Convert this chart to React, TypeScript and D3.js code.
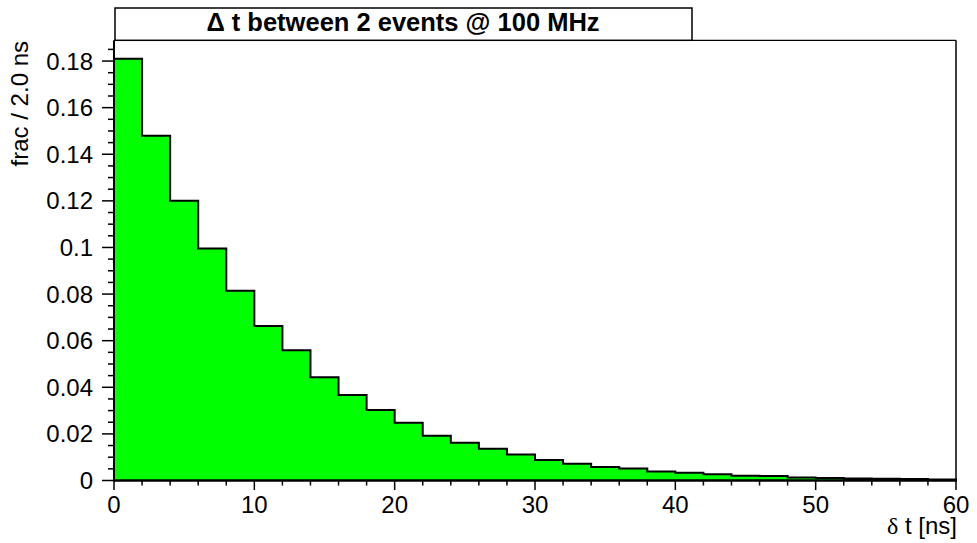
import React from "react";
import * as d3 from "d3";

const binEdges: number[] = [0, 2, 4, 6, 8, 10, 12, 14, 16, 18, 20, 22, 24, 26, 28, 30, 32, 34, 36, 38, 40, 42, 44, 46, 48, 50, 52, 54, 56, 58, 60];
const fracValues: number[] = [
  0.181, 0.1479, 0.120, 0.0996, 0.0814, 0.0663, 0.0559, 0.0443, 0.0367, 0.0302,
  0.0248, 0.0192, 0.0162, 0.0136, 0.0112, 0.0088, 0.0072, 0.0058, 0.0051, 0.0039,
  0.0033, 0.0027, 0.0020, 0.0019, 0.0013, 0.0011, 0.0009, 0.0007, 0.0006, 0.0004,
];
const xTickLabels: number[] = [0, 10, 20, 30, 40, 50, 60];
const yTickLabels: number[] = [0, 0.02, 0.04, 0.06, 0.08, 0.1, 0.12, 0.14, 0.16, 0.18];
const titleText = "\u0394 t between 2 events @ 100 MHz";
const xTitle = " t [ns]";
const yTitle = "frac / 2.0 ns";

const W = 977;
const H = 543;
const L = 114, R = 956, T = 40.3, B = 480.5;

export default function App() {
  const x = d3.scaleLinear().domain([0, 60]).range([L, R]);
  const y = d3.scaleLinear().domain([0, 0.1889]).range([B, T]);

  let d = `M${x(binEdges[0])},${y(0)}`;
  fracValues.forEach((v, i) => {
    d += `L${x(binEdges[i])},${y(v)}L${x(binEdges[i + 1])},${y(v)}`;
  });
  d += `L${x(binEdges[binEdges.length - 1])},${y(0)}Z`;

  const xMinor = d3.range(0, 60.001, 2);
  const yMinor = d3.range(0, 0.1889, 0.005);
  const font = "'Liberation Sans', Arial, Helvetica, sans-serif";
  const fmt = (v: number) => (v === 0 ? "0" : String(+v.toFixed(2)));

  return (
    <svg width={W} height={H} style={{ position: "absolute", left: 0, top: 0, background: "#fff" }} fontFamily={font}>
      <rect x={0} y={0} width={W} height={H} fill="#fff" />
      <path d={d} fill="#00ff00" stroke="#000" strokeWidth={2} strokeLinejoin="miter" />
      {/* frame */}
      <line x1={L} y1={T} x2={R} y2={T} stroke="#000" strokeWidth={1.2} />
      <line x1={R} y1={T} x2={R} y2={B} stroke="#000" strokeWidth={1.5} />
      <line x1={L} y1={T} x2={L} y2={B} stroke="#000" strokeWidth={2} />
      <line x1={L - 1} y1={B} x2={R + 1} y2={B} stroke="#000" strokeWidth={2} />
      {/* x ticks */}
      {xMinor.map((t) => (
        <line key={"xm" + t} x1={x(t)} x2={x(t)} y1={B} y2={t % 10 === 0 ? B + 9.5 : B + 5} stroke="#000" strokeWidth={1.5} />
      ))}
      {xTickLabels.map((t) => (
        <text key={"xl" + t} x={x(t)} y={513} fontSize={24} textAnchor="middle" fill="#000">{t}</text>
      ))}
      {/* y ticks */}
      {yMinor.map((t, i) => (
        <line key={"ym" + i} x1={L} x2={i % 4 === 0 ? L - 12 : L - 6} y1={y(t)} y2={y(t)} stroke="#000" strokeWidth={1.5} />
      ))}
      {yTickLabels.map((t) => (
        <text key={"yl" + t} x={93} y={y(t) + 8.5} fontSize={24} textAnchor="end" fill="#000">{fmt(t)}</text>
      ))}
      {/* axis titles */}
      <text x={957} y={533.5} fontSize={24} textAnchor="end" fill="#000">
        <tspan fontFamily="'Liberation Serif', 'DejaVu Serif', serif">{"\u03b4"}</tspan>
        <tspan>{xTitle}</tspan>
      </text>
      <text transform={`translate(28,41) rotate(-90)`} fontSize={24} textAnchor="end" fill="#000">{yTitle}</text>
      {/* title box */}
      <rect x={115} y={8} width={577} height={32.3} fill="#fff" stroke="#000" strokeWidth={1.5} />
      <text x={403} y={31} fontSize={25.5} fontWeight="bold" textAnchor="middle" fill="#000">{titleText}</text>
    </svg>
  );
}
